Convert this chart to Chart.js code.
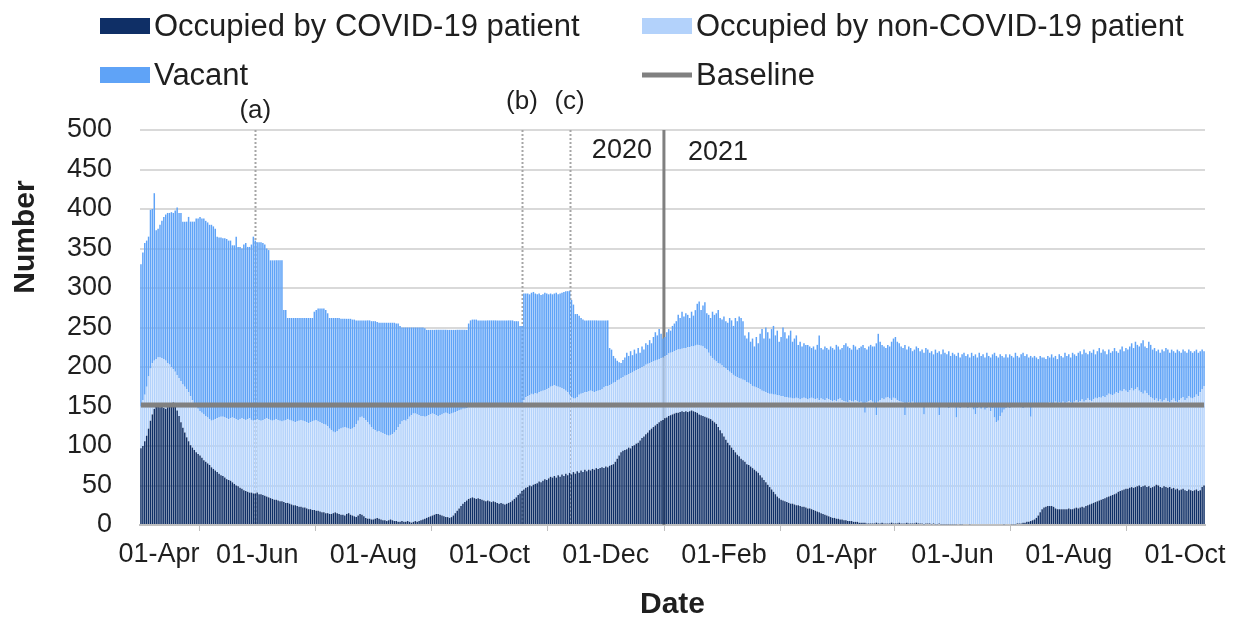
<!DOCTYPE html>
<html lang="en">
<head>
    <meta charset="UTF-8">
    <title>Bed occupancy</title>
    <script src="https://cdn.jsdelivr.net/npm/chart.js"></script>
    <style>
        body {
            margin: 0;
            background: #ffffff;
        }
        #chartContainer {
            width: 1239px;
            height: 620px;
        }
    </style>
</head>
<body>
    <div id="chartContainer">
        <canvas id="bedChart" width="1239" height="620"></canvas>
    </div>

    <script>
        // Daily readings from 01-Apr-2020 (one row = one week)
        // totalBeds = top of the vacant bar, occupiedBeds = top of the non-COVID bar
        const totalBeds = [
            330, 345, 357, 360, 365, 399, 400,
            420, 373, 375, 380, 385, 390, 393,
            395, 395, 396, 395, 398, 402, 395,
            395, 384, 384, 384, 390, 384, 384,
            384, 388, 388, 390, 388, 388, 385,
            383, 380, 380, 378, 375, 365, 364,
            364, 363, 363, 362, 360, 360, 354,
            354, 365, 352, 352, 350, 355, 357,
            352, 352, 355, 365, 360, 358, 358,
            358, 357, 355, 350, 348, 335, 335,
            335, 335, 335, 335, 335, 272, 272,
            262, 262, 262, 262, 262, 262, 262,
            262, 262, 262, 262, 262, 262, 262,
            270, 272, 274, 274, 274, 274, 272,
            268, 262, 262, 262, 262, 262, 262,
            261, 261, 261, 261, 261, 261, 260,
            260, 259, 259, 259, 259, 259, 259,
            259, 259, 258, 258, 258, 257, 256,
            256, 256, 256, 256, 256, 256, 256,
            256, 255, 255, 252, 250, 250, 250,
            250, 250, 250, 250, 250, 250, 250,
            250, 250, 249, 247, 247, 247, 247,
            247, 247, 247, 247, 247, 247, 247,
            247, 247, 247, 247, 247, 247, 247,
            247, 247, 247, 247, 255, 259, 260,
            260, 260, 259, 259, 259, 259, 259,
            259, 259, 259, 259, 259, 259, 259,
            259, 259, 259, 259, 259, 259, 259,
            258, 258, 258, 252, 252, 293, 293,
            293, 292, 294, 295, 293, 292, 293,
            291, 292, 294, 293, 292, 293, 292,
            293, 294, 292, 293, 294, 295, 296,
            296, 296, 285, 279, 267, 267, 265,
            262, 260, 259, 259, 259, 259, 259,
            259, 259, 259, 259, 259, 259, 259,
            259, 224, 222, 214, 211, 208, 206,
            205, 209, 212, 218, 214, 220, 215,
            222, 217, 224, 218, 226, 222, 230,
            228, 234, 230, 238, 244, 240, 248,
            242, 236, 238, 244, 248, 246, 252,
            255, 258, 266, 262, 270, 264, 268,
            266, 262, 270, 265, 272, 280, 283,
            272, 278, 282, 268, 266, 262, 270,
            266, 268, 272, 262, 260, 264, 258,
            256, 262, 259, 252, 262, 258, 264,
            262, 258, 240, 236, 244, 232, 236,
            226, 238, 230, 242, 248, 236, 250,
            244, 236, 248, 252, 240, 246, 232,
            238, 250, 244, 236, 240, 246, 232,
            236, 240, 228, 232, 226, 230, 228,
            228, 226, 224, 226, 222, 228, 240,
            224, 222, 226, 224, 222, 226, 224,
            222, 228, 226, 222, 224, 228, 230,
            226, 224, 222, 228, 226, 222, 224,
            226, 228, 224, 222, 226, 228, 226,
            226, 230, 242, 232, 228, 226, 224,
            228, 226, 232, 236, 238, 232, 230,
            226, 224, 228, 222, 226, 224, 220,
            222, 226, 224, 220, 222, 218, 224,
            222, 218, 220, 216, 222, 218, 220,
            216, 222, 218, 216, 220, 214, 218,
            216, 214, 218, 212, 216, 218, 214,
            216, 212, 218, 214, 216, 212, 218,
            214, 216, 212, 218, 214, 212, 216,
            218, 214, 212, 216, 214, 212, 216,
            212, 216, 214, 212, 218, 214, 212,
            216, 218, 214, 216, 212, 214, 212,
            214, 212, 210, 214, 212, 212, 210,
            214, 212, 216, 212, 214, 210, 216,
            214, 212, 218, 214, 216, 212, 218,
            216, 214, 218, 220, 216, 222, 218,
            216, 220, 218, 222, 216, 220, 224,
            218, 222, 220, 216, 222, 218, 220,
            224, 220, 218, 222, 226, 220, 224,
            222, 226, 230, 224, 232, 228, 226,
            230, 234, 226, 224, 232, 228, 222,
            224, 220, 222, 218, 222, 220, 224,
            222, 218, 222, 220, 218, 222, 220,
            218, 222, 220, 218, 222, 220, 218,
            220, 222, 218, 220, 222, 220
        ];

        const occupiedBeds = [
            150, 158, 165, 175, 188, 198, 205,
            208, 210, 212, 212, 211, 210, 208,
            205, 203, 200, 197, 194, 190, 186,
            182, 178, 175, 172, 168, 163, 158,
            154, 150, 147, 144, 142, 140, 138,
            136, 134, 132, 133, 134, 135, 136,
            137, 137, 136, 135, 134, 135, 136,
            135, 134, 133, 134, 135, 134, 133,
            134, 135, 133, 132, 133, 134, 133,
            132, 133, 134, 135, 134, 133, 132,
            133, 134, 133, 132, 131, 132, 133,
            134, 133, 132, 131, 130, 131, 132,
            133, 132, 131, 130, 129, 130, 131,
            132, 133, 131, 130, 129, 128, 127,
            125, 122, 120, 118, 117, 119, 121,
            122, 123, 124, 123, 122, 121, 122,
            124, 128, 132, 136, 137, 135, 133,
            130, 127, 124, 121, 120, 118, 119,
            117, 116, 115, 114, 113, 114, 115,
            117, 120, 124, 128, 131, 133, 132,
            134, 137, 139, 141, 141, 140, 139,
            138, 138, 137, 138, 139, 140, 141,
            140, 139, 138, 139, 140, 141, 142,
            141, 140, 141, 142, 143, 144, 145,
            146, 147, 147, 148, 149, 150, 151,
            150, 151, 152, 151, 150, 151, 152,
            153, 151, 150, 152, 153, 152, 150,
            151, 152, 153, 151, 150, 149, 150,
            151, 152, 150, 149, 150, 158, 162,
            163, 164, 166, 165, 167, 166, 168,
            169, 170, 171, 172, 173, 175, 176,
            177, 176, 175, 174, 173, 172, 170,
            168, 165, 162, 160, 160, 162, 165,
            166, 167, 168, 168, 169, 170, 169,
            168, 169, 170, 171, 172, 174, 176,
            176, 177, 178, 180, 181, 183, 184,
            186, 187, 189, 190, 191, 192, 193,
            195, 196, 197, 198, 200, 201, 203,
            204, 205, 206, 207, 208, 209, 210,
            211, 212, 214, 215, 217, 218, 219,
            220, 221, 222, 222, 223, 224, 224,
            225, 225, 226, 226, 227, 228, 228,
            227, 226, 224, 222, 218, 214, 211,
            209, 207, 205, 204, 202, 200, 198,
            196, 194, 192, 190, 188, 187, 186,
            185, 184, 183, 181, 180, 178, 176,
            175, 174, 173, 172, 170, 169, 168,
            167, 166, 166, 165, 165, 164, 164,
            163, 163, 162, 162, 161, 161, 160,
            160, 161, 160, 159, 160, 161, 160,
            159, 160, 161, 160, 159, 160, 158,
            160, 159, 158, 160, 159, 158, 157,
            158, 157, 159, 160, 158, 157, 156,
            155, 158, 157, 156, 158, 157, 155,
            156, 154, 142, 155, 157, 158, 156,
            150, 139, 156, 158, 160, 159, 161,
            162, 160, 158, 161, 160, 158, 157,
            156, 155, 139, 153, 155, 154, 156,
            153, 152, 151, 153, 150, 140, 152,
            151, 150, 152, 151, 149, 150, 139,
            150, 152, 149, 151, 148, 150, 152,
            149, 136, 150, 148, 151, 149, 150,
            148, 150, 149, 146, 140, 148, 150,
            147, 149, 146, 148, 150, 144, 148,
            136, 130, 132, 138, 142, 146, 148,
            150, 148, 152, 150, 149, 151, 153,
            150, 148, 151, 153, 150, 137, 152,
            151, 153, 150, 152, 154, 152, 150,
            153, 155, 152, 154, 156, 153, 155,
            154, 156, 153, 155, 157, 155, 154,
            156, 158, 155, 157, 159, 156, 158,
            160, 158, 157, 159, 161, 160, 162,
            161, 163, 162, 164, 166, 165, 164,
            166, 168, 167, 170, 169, 172, 170,
            168, 171, 173, 170, 172, 174, 170,
            168, 166, 170, 167, 164, 162, 160,
            158, 160, 157, 159, 156, 158, 160,
            157, 155, 158, 160, 157, 155, 158,
            160, 162, 158, 160, 163, 161, 160,
            162, 165, 163, 168, 172, 176
        ];

        const covidPatients = [
            97, 100, 106, 113, 122, 132, 140,
            147, 152, 151, 149, 150, 148, 147,
            149, 150, 152, 155, 152, 145, 138,
            130, 123, 117, 111, 106, 101, 98,
            95, 92, 90, 88, 85, 82, 80,
            78, 76, 73, 71, 69, 67, 65,
            63, 62, 60, 58, 57, 56, 54,
            52, 50, 49, 47, 46, 44, 43,
            42, 41, 41, 40, 40, 41, 39,
            39, 38, 37, 36, 35, 34, 33,
            32, 32, 31, 30, 30, 29, 28,
            28, 27, 26, 25, 25, 24, 23,
            23, 22, 22, 21, 20, 20, 19,
            19, 18, 18, 17, 16, 16, 15,
            15, 14, 14, 15, 16, 15, 14,
            13, 13, 12, 14, 15, 13, 12,
            11, 10, 12, 14, 13, 11, 9,
            8, 8, 7, 7, 8, 9, 8,
            7, 6, 6, 5, 6, 7, 6,
            5, 5, 4, 4, 5, 4, 4,
            5, 4, 3, 4, 5, 4, 5,
            6, 7, 8, 9, 10, 11, 12,
            13, 14, 14, 13, 12, 11, 10,
            10, 9, 10, 12, 15, 18, 21,
            24, 27, 29, 31, 33, 34, 35,
            34, 33, 34, 33, 32, 31, 30,
            31, 30, 29, 30, 29, 28, 27,
            28, 27, 26, 27, 28, 29, 31,
            33, 35, 38, 40, 43, 45, 47,
            48, 50, 49, 51, 52, 53, 55,
            54, 56, 58, 57, 59, 61, 60,
            62, 60, 63, 61, 64, 62, 65,
            63, 66, 64, 67, 65, 68, 66,
            69, 67, 70, 68, 70, 69, 71,
            70, 72, 71, 72, 73, 72, 74,
            73, 75, 76, 77, 80, 84, 88,
            92, 94, 95, 96, 98, 97, 100,
            101, 103, 104, 107, 110, 112, 115,
            117, 120, 122, 124, 126, 128, 130,
            132, 133, 135, 136, 138, 139, 140,
            141, 142, 142, 143, 144, 143, 144,
            143, 144, 145, 144, 143, 142, 140,
            139, 138, 137, 136, 135, 134, 132,
            130, 128, 124, 120, 116, 112, 108,
            104, 101, 98, 95, 92, 89, 87,
            84, 82, 80, 77, 76, 74, 72,
            70, 68, 66, 63, 60, 57, 54,
            51, 48, 45, 42, 39, 36, 34,
            32, 31, 30, 29, 28, 27, 27,
            26, 25, 25, 24, 23, 23, 22,
            21, 21, 20, 19, 18, 17, 16,
            15, 14, 13, 12, 11, 10, 9,
            9, 8, 8, 7, 7, 6, 6,
            5, 5, 5, 4, 4, 4, 3,
            3, 3, 3, 2, 2, 2, 2,
            2, 3, 2, 2, 3, 2, 2,
            2, 2, 3, 2, 2, 2, 3,
            2, 2, 2, 3, 2, 2, 2,
            2, 3, 2, 2, 2, 1, 2,
            2, 2, 1, 2, 1, 1, 2,
            1, 1, 1, 1, 1, 1, 1,
            1, 1, 0, 1, 1, 0, 0,
            0, 1, 0, 0, 0, 0, 0,
            0, 0, 0, 0, 0, 0, 0,
            0, 0, 0, 0, 0, 1, 0,
            0, 0, 1, 1, 1, 2, 2,
            2, 3, 3, 4, 4, 5, 6,
            7, 9, 12, 16, 20, 22, 23,
            24, 24, 24, 23, 21, 20, 20,
            20, 20, 20, 20, 21, 20, 20,
            21, 22, 21, 22, 23, 22, 24,
            25, 26, 27, 28, 29, 30, 31,
            32, 33, 34, 35, 36, 37, 38,
            39, 40, 42, 43, 44, 45, 46,
            46, 47, 48, 47, 48, 49, 50,
            48, 49, 50, 48, 49, 47, 48,
            49, 51, 50, 48, 47, 49, 48,
            47, 48, 46, 47, 45, 46, 44,
            45, 46, 44, 43, 45, 44, 43,
            44, 45, 43, 44, 48, 50
        ];

        const baselineBeds = 152;

        // Dotted event markers and the year change
        const markerLabels = ['(a)', '(b)', '(c)'];
        const markerDates = ['2020-05-31', '2020-10-18', '2020-11-12'];
        const yearLabels = ['2020', '2021'];
        const yearChangeDate = '2021-01-01';

        const monthNames = ['Jan', 'Feb', 'Mar', 'Apr', 'May', 'Jun', 'Jul', 'Aug', 'Sep', 'Oct', 'Nov', 'Dec'];
        const shownMonths = [3, 5, 7, 9, 11, 1];   // every second month from April
        const startTime = Date.UTC(2020, 3, 1);

        // Build the daily categories
        const dayDates = totalBeds.map((v, i) => new Date(startTime + i * 86400000));
        const labels = dayDates.map(d =>
            String(d.getUTCDate()).padStart(2, '0') + '-' + monthNames[d.getUTCMonth()]);

        function dayIndex(iso) {
            const p = iso.split('-').map(Number);
            return Math.round((Date.UTC(p[0], p[1] - 1, p[2]) - startTime) / 86400000);
        }

        const nonCovid = occupiedBeds.map((v, i) => v - covidPatients[i]);
        const vacant = totalBeds.map((v, i) => v - occupiedBeds[i]);

        const textColor = '#1f1f1f';
        const fontFamily = 'Arial, "Liberation Sans", sans-serif';

        // Vertical lines go behind the bars, labels and legend on top
        const annotationPlugin = {
            id: 'annotations',
            beforeDatasetsDraw(chart) {
                const { ctx, chartArea, scales: { x } } = chart;
                ctx.save();
                ctx.strokeStyle = '#a6a6a6';
                ctx.lineWidth = 2;
                ctx.setLineDash([2, 2]);
                markerDates.forEach(date => {
                    const px = Math.round(x.getPixelForValue(dayIndex(date))) + 0.5;
                    ctx.beginPath();
                    ctx.moveTo(px, chartArea.top);
                    ctx.lineTo(px, chartArea.bottom);
                    ctx.stroke();
                });
                const yi = dayIndex(yearChangeDate);
                const yx = (x.getPixelForValue(yi - 1) + x.getPixelForValue(yi)) / 2;
                ctx.setLineDash([]);
                ctx.strokeStyle = '#808080';
                ctx.lineWidth = 3;
                ctx.beginPath();
                ctx.moveTo(yx, chartArea.top);
                ctx.lineTo(yx, chartArea.bottom);
                ctx.stroke();
                ctx.restore();
            },
            afterDraw(chart) {
                const { ctx, chartArea, scales: { x } } = chart;
                ctx.save();
                ctx.fillStyle = textColor;
                ctx.textBaseline = 'middle';
                ctx.textAlign = 'center';
                ctx.font = '26px ' + fontFamily;
                markerDates.forEach((date, i) => {
                    const px = x.getPixelForValue(dayIndex(date));
                    ctx.fillText(markerLabels[i], px, i === 0 ? 111 : 102);
                });
                const yi = dayIndex(yearChangeDate);
                const yx = (x.getPixelForValue(yi - 1) + x.getPixelForValue(yi)) / 2;
                ctx.font = '27px ' + fontFamily;
                ctx.textAlign = 'right';
                ctx.fillText(yearLabels[0], yx - 12, 151);
                ctx.textAlign = 'left';
                ctx.fillText(yearLabels[1], yx + 24, 153);

                // First date label sits a little right of its tick, as in the original
                ctx.textAlign = 'center';
                ctx.font = '27px ' + fontFamily;
                ctx.fillText(labels[0], x.getPixelForValue(0) + 18, chartArea.bottom + 30);

                // Y axis title, placed above the middle of the axis
                ctx.save();
                ctx.translate(26, 237);
                ctx.rotate(-Math.PI / 2);
                ctx.font = 'bold 30px ' + fontFamily;
                ctx.fillText('Number', 0, 0);
                ctx.restore();

                // Legend in two columns
                const cols = [100, 642];
                const rows = [26, 75];
                ctx.font = '31px ' + fontFamily;
                ctx.textAlign = 'left';
                chart.data.datasets.forEach((ds, k) => {
                    const lx = cols[k % 2];
                    const ly = rows[Math.floor(k / 2)];
                    if (ds.type === 'line') {
                        ctx.fillStyle = ds.borderColor;
                        ctx.fillRect(lx, ly - 2.5, 50, 5);
                    } else {
                        ctx.fillStyle = ds.backgroundColor;
                        ctx.fillRect(lx, ly - 8, 50, 16);
                    }
                    ctx.fillStyle = textColor;
                    ctx.fillText(ds.label, lx + 54, ly + 1);
                });
                ctx.restore();
            }
        };

        const ctx = document.getElementById('bedChart').getContext('2d');
        const barStyle = {
            type: 'bar',
            stack: 'beds',
            order: 1,
            borderWidth: 0,
            barPercentage: 0.78,
            categoryPercentage: 1.0
        };

        const chart = new Chart(ctx, {
            data: {
                labels: labels,
                datasets: [
                    Object.assign({}, barStyle, {
                        label: 'Occupied by COVID-19 patient',
                        data: covidPatients,
                        backgroundColor: '#0f2f66'
                    }),
                    Object.assign({}, barStyle, {
                        label: 'Occupied by non-COVID-19 patient',
                        data: nonCovid,
                        backgroundColor: '#b3d2fb'
                    }),
                    Object.assign({}, barStyle, {
                        label: 'Vacant',
                        data: vacant,
                        backgroundColor: '#5fa3f7'
                    }),
                    {
                        type: 'line',
                        label: 'Baseline',
                        stack: 'baseline',
                        order: 0,
                        data: labels.map(() => baselineBeds),
                        borderColor: '#808080',
                        borderWidth: 5,
                        pointRadius: 0,
                        fill: false
                    }
                ]
            },
            options: {
                responsive: false,
                animation: false,
                layout: {
                    padding: { top: 130, right: 34, left: 0, bottom: 0 }
                },
                plugins: {
                    legend: { display: false },
                    tooltip: { enabled: false }
                },
                scales: {
                    x: {
                        stacked: true,
                        afterFit: scale => { scale.height = 95; },
                        grid: {
                            drawOnChartArea: false,
                            drawTicks: true,
                            tickLength: 6,
                            color: '#bfbfbf',
                            lineWidth: 1
                        },
                        border: { color: '#bfbfbf', width: 2 },
                        ticks: {
                            autoSkip: false,
                            maxRotation: 0,
                            padding: 8,
                            color: textColor,
                            font: { family: fontFamily, size: 27 },
                            callback: function (value, index) {
                                const d = dayDates[index];
                                if (d.getUTCDate() === 1 && shownMonths.includes(d.getUTCMonth())) {
                                    // the first label is drawn by the plugin
                                    return index === 0 ? '' : labels[index];
                                }
                                return null;
                            }
                        },
                        title: {
                            display: true,
                            text: 'Date',
                            color: textColor,
                            padding: { top: 0, bottom: 0 },
                            font: { family: fontFamily, size: 30, weight: 'bold', lineHeight: 1.0 }
                        }
                    },
                    y: {
                        stacked: true,
                        min: 0,
                        max: 500,
                        afterFit: scale => { scale.width = 140; },
                        grid: {
                            color: '#d9d9d9',
                            lineWidth: 2,
                            drawTicks: false
                        },
                        border: { display: false },
                        ticks: {
                            stepSize: 50,
                            padding: 28,
                            color: textColor,
                            font: { family: fontFamily, size: 27 }
                        }
                    }
                }
            },
            plugins: [annotationPlugin]
        });
    </script>
</body>
</html>
